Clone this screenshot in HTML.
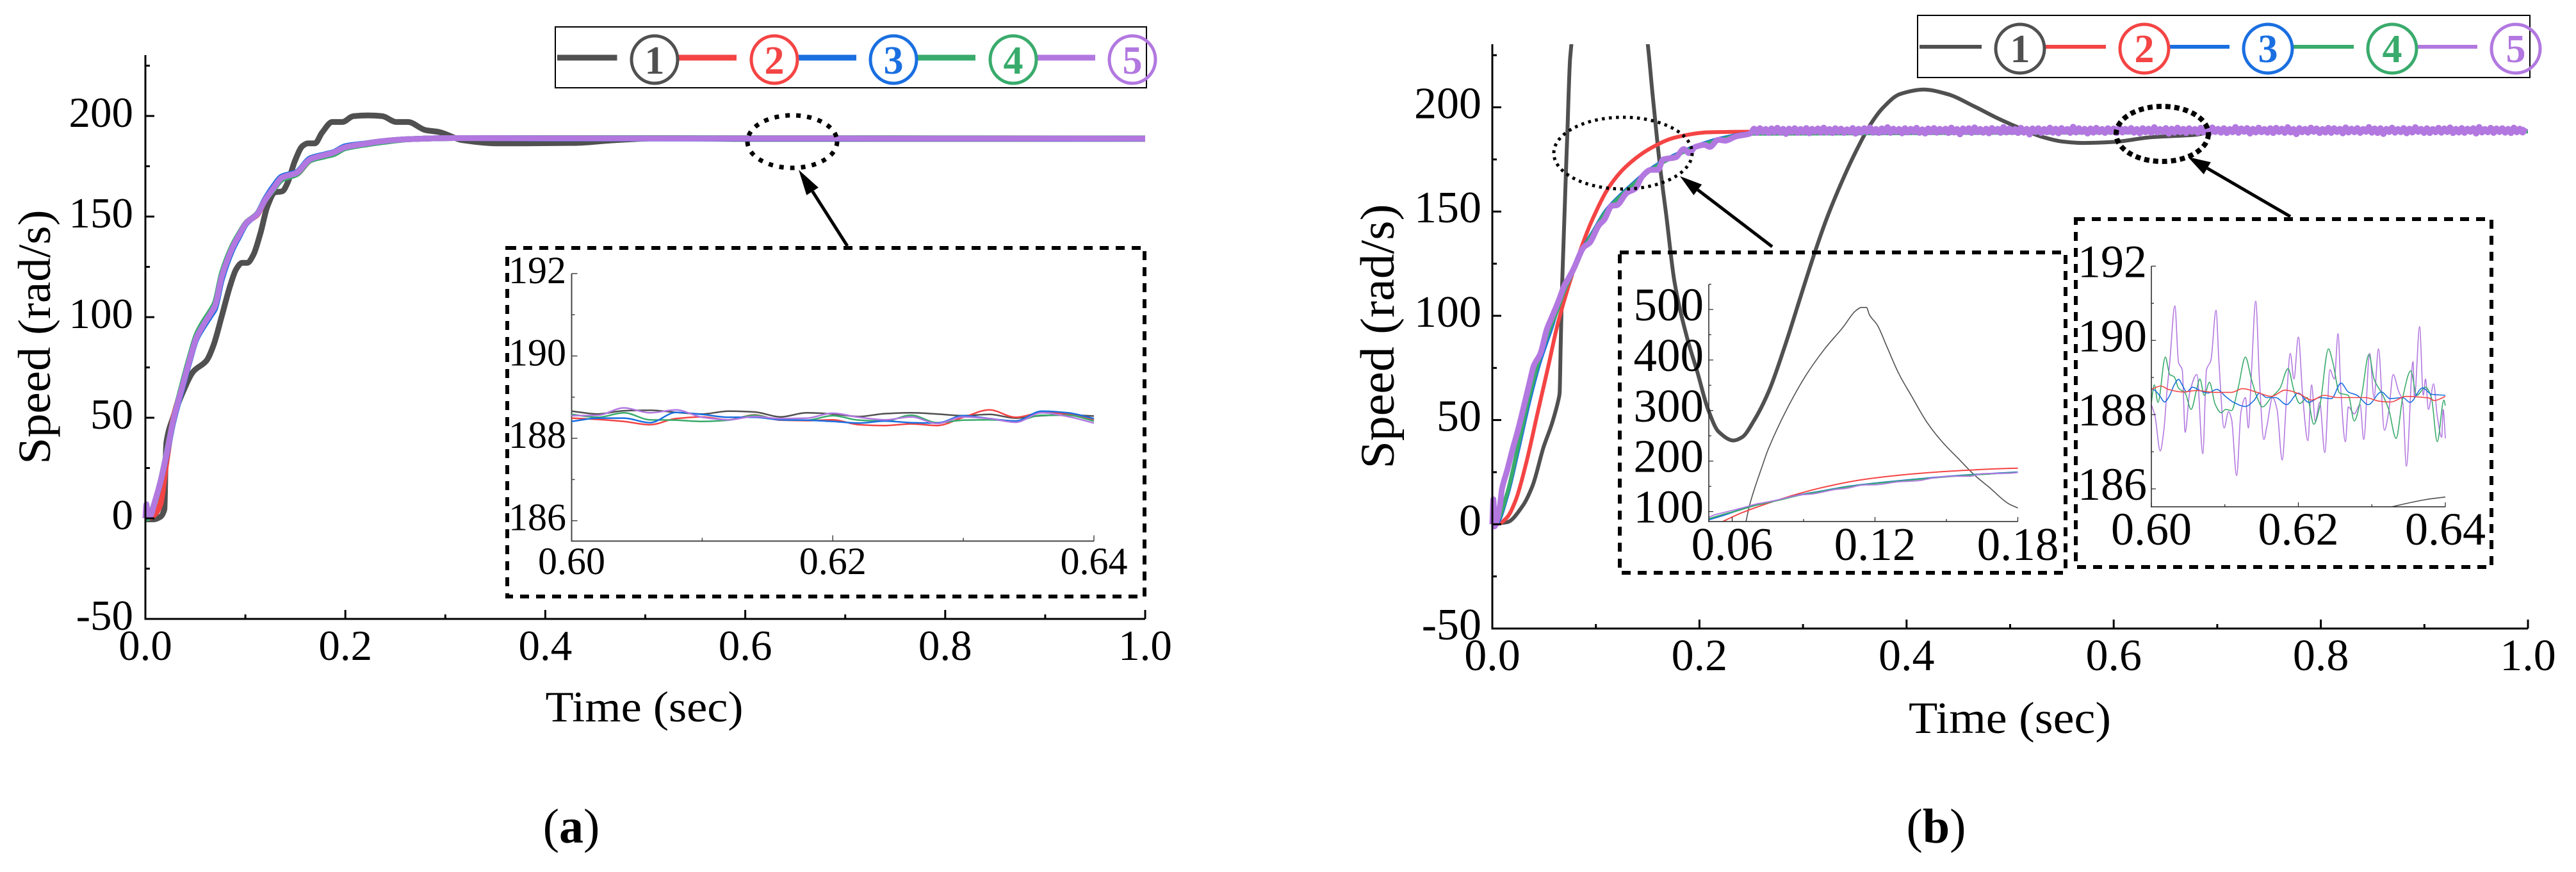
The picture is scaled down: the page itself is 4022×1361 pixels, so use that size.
<!DOCTYPE html>
<html lang="en">
<head>
<meta charset="utf-8">
<title>Speed response comparison</title>
<style>
html,body{margin:0;padding:0;background:#fff;width:4022px;height:1361px;overflow:hidden;}
svg{display:block;font-family:"Liberation Serif",serif;}
</style>
</head>
<body>
<svg id="chart" xmlns="http://www.w3.org/2000/svg" width="4022" height="1361" viewBox="0 0 4022 1361">
<rect x="0" y="0" width="4022" height="1361" fill="#fff"/>
<defs id="clips"></defs>
<g id="panel-a">
  <g id="a-main"></g>
  <text transform="translate(78,526) rotate(-90)" text-anchor="middle" font-size="72" textLength="397" lengthAdjust="spacingAndGlyphs">Speed (rad/s)</text>
  <text x="1006" y="1126" text-anchor="middle" font-size="68" textLength="309" lengthAdjust="spacingAndGlyphs">Time (sec)</text>
  <text x="892" y="1315" text-anchor="middle" font-size="76">(<tspan font-weight="bold">a</tspan>)</text>
  <ellipse cx="1237" cy="221" rx="70" ry="41" fill="none" stroke="#000" stroke-width="7" stroke-dasharray="7 10"/>
  <line x1="1323" y1="384" x2="1268.6" y2="298.7" stroke="#000" stroke-width="5"/>
  <polygon points="1247,265 1277.9,292.8 1259.3,304.6" fill="#000"/>
  <rect x="792" y="387" width="995" height="544" fill="none" stroke="#000" stroke-width="6" stroke-dasharray="14 11"/>
  <g id="a-inset"></g>
  <g>
    <rect x="867" y="42" width="923" height="95" fill="#fff" stroke="#000" stroke-width="2"/>
    <line x1="870" y1="90" x2="963.5" y2="90" stroke="#505050" stroke-width="9"/>
    <line x1="1058" y1="90" x2="1150" y2="90" stroke="#f44444" stroke-width="9"/>
    <line x1="1244" y1="90" x2="1337" y2="90" stroke="#1a6fe0" stroke-width="9"/>
    <line x1="1430" y1="90" x2="1523" y2="90" stroke="#39ab6c" stroke-width="9"/>
    <line x1="1618" y1="90" x2="1710" y2="90" stroke="#b278e0" stroke-width="9"/>
    <ellipse cx="1022" cy="93" rx="36" ry="37" fill="none" stroke="#505050" stroke-width="5"/>
    <ellipse cx="1209" cy="93" rx="36" ry="37" fill="none" stroke="#f44444" stroke-width="5"/>
    <ellipse cx="1395" cy="93" rx="36" ry="37" fill="none" stroke="#1a6fe0" stroke-width="5"/>
    <ellipse cx="1582" cy="93" rx="36" ry="37" fill="none" stroke="#39ab6c" stroke-width="5"/>
    <ellipse cx="1768" cy="93" rx="36" ry="37" fill="none" stroke="#b278e0" stroke-width="5"/>
    <text x="1022" y="115" text-anchor="middle" font-size="62" font-weight="bold" fill="#505050">1</text>
    <text x="1209" y="115" text-anchor="middle" font-size="62" font-weight="bold" fill="#f44444">2</text>
    <text x="1395" y="115" text-anchor="middle" font-size="62" font-weight="bold" fill="#1a6fe0">3</text>
    <text x="1582" y="115" text-anchor="middle" font-size="62" font-weight="bold" fill="#39ab6c">4</text>
    <text x="1768" y="115" text-anchor="middle" font-size="62" font-weight="bold" fill="#b278e0">5</text>
  </g>
</g>
<g id="panel-b">
  <g id="b-main"></g>
  <text transform="translate(2176,525) rotate(-90)" text-anchor="middle" font-size="75" textLength="413" lengthAdjust="spacingAndGlyphs">Speed (rad/s)</text>
  <text x="3138" y="1144" text-anchor="middle" font-size="70" textLength="316" lengthAdjust="spacingAndGlyphs">Time (sec)</text>
  <text x="3023" y="1315" text-anchor="middle" font-size="76">(<tspan font-weight="bold">b</tspan>)</text>
  <ellipse cx="2534" cy="239" rx="108" ry="56" fill="none" stroke="#000" stroke-width="5" stroke-dasharray="4.5 6.5"/>
  <line x1="2767" y1="385" x2="2650.8" y2="296.3" stroke="#000" stroke-width="5"/>
  <polygon points="2623,275 2657.2,288 2644.4,304.6" fill="#000"/>
  <ellipse cx="3376" cy="209" rx="72" ry="43" fill="none" stroke="#000" stroke-width="8" stroke-dasharray="8 6"/>
  <line x1="3576" y1="338" x2="3446.3" y2="262.6" stroke="#000" stroke-width="5"/>
  <polygon points="3416,245 3451.8,253.1 3440.8,272.1" fill="#000"/>
  <rect x="2529" y="394" width="696" height="500" fill="none" stroke="#000" stroke-width="6" stroke-dasharray="14 11"/>
  <rect x="3241" y="342" width="649" height="543" fill="none" stroke="#000" stroke-width="6" stroke-dasharray="14 11"/>
  <g id="b-inset-1"></g>
  <g id="b-inset-2"></g>
  <g>
    <rect x="2994" y="24" width="956" height="97" fill="none" stroke="#000" stroke-width="2"/>
    <line x1="2997" y1="73" x2="3094" y2="73" stroke="#505050" stroke-width="6"/>
    <line x1="3192" y1="73" x2="3288" y2="73" stroke="#f44444" stroke-width="6"/>
    <line x1="3385" y1="73" x2="3481" y2="73" stroke="#1a6fe0" stroke-width="6"/>
    <line x1="3579" y1="73" x2="3675" y2="73" stroke="#39ab6c" stroke-width="6"/>
    <line x1="3772" y1="73" x2="3868" y2="73" stroke="#b278e0" stroke-width="6"/>
    <ellipse cx="3154" cy="76" rx="38" ry="38" fill="none" stroke="#505050" stroke-width="5"/>
    <ellipse cx="3348" cy="76" rx="38" ry="38" fill="none" stroke="#f44444" stroke-width="5"/>
    <ellipse cx="3541" cy="76" rx="38" ry="38" fill="none" stroke="#1a6fe0" stroke-width="5"/>
    <ellipse cx="3735" cy="76" rx="38" ry="38" fill="none" stroke="#39ab6c" stroke-width="5"/>
    <ellipse cx="3928" cy="76" rx="38" ry="38" fill="none" stroke="#b278e0" stroke-width="5"/>
    <text x="3154" y="97" text-anchor="middle" font-size="62" font-weight="bold" fill="#505050">1</text>
    <text x="3348" y="97" text-anchor="middle" font-size="62" font-weight="bold" fill="#f44444">2</text>
    <text x="3541" y="97" text-anchor="middle" font-size="62" font-weight="bold" fill="#1a6fe0">3</text>
    <text x="3735" y="97" text-anchor="middle" font-size="62" font-weight="bold" fill="#39ab6c">4</text>
    <text x="3928" y="97" text-anchor="middle" font-size="62" font-weight="bold" fill="#b278e0">5</text>
  </g>
</g>
</svg>
<script>
/* ---------- axis labels ---------- */
const mainXTicks = ['0.0','0.2','0.4','0.6','0.8','1.0'];
const mainXMinor = [0.1,0.3,0.5,0.7,0.9];
const mainYTicks = ['-50','0','50','100','150','200'];
const mainYMinor = [-25,25,75,125,175,225];
const steadyXTicks = ['0.60','0.62','0.64'];
const steadyXMinor = [0.61,0.63];
const steadyYTicks = ['186','188','190','192'];
const steadyYMinor = [187,189,191];
const transientXTicks = ['0.06','0.12','0.18'];
const transientXMinor = [0.09,0.15];
const transientYTicks = ['100','200','300','400','500'];
const transientYMinor = [150,250,350,450,550];

/* ---------- panel (a) main series ---------- */
const aGrayT = [0,0.008,0.015,0.019,0.0203,0.021,0.028,0.0366,0.048,0.061,0.068,0.0766,0.085,0.091,0.0967,0.102,0.108,0.115,0.122,0.1295,0.137,0.1424,0.1496,0.157,0.1624,0.1696,0.1767,0.187,0.197,0.208,0.2225,0.237,0.251,0.2625,0.28,0.294,0.317,0.351,0.38,0.43,0.47,0.52,0.6,1.0];
const aGrayV = [-0.5,-0.5,0.75,4.5,30,37.7,50.5,61.7,73,78.3,85.8,100.9,116,124,127,127,131,141.6,155,162,162.6,167,177.7,185,186.4,186.4,191.7,197,197,199.9,200.3,199.9,197,197,193,192,188,186.4,186.4,186.6,188,189,188.6,188.6];
const aT = [0,0.001,0.002,0.005,0.0094,0.015,0.021,0.028,0.0366,0.0437,0.051,0.0566,0.065,0.0695,0.0766,0.0866,0.0938,0.101,0.112,0.1195,0.128,0.1367,0.151,0.165,0.18,0.188,0.2,0.2225,0.237,0.265,0.308,0.4,1.0];
const aRed = [0,0,0,0.5,2,7,28,50,65,78,90,95,102,106,121,134,141,147,151,158,164,169,171,178,180.5,181.5,184.5,186.5,187.5,188.5,189,188.9,188.8];
const aBlue = [0,0,0,2,8,18,31,48,64,77,89,94,100.5,104,119,133,140,146.5,151.5,158.5,165,170,172,179,181,182,185,186.5,187.5,188.5,189,188.8,188.7];
const aGreen = [0,0,0,2,8,18,32,49,66,79,91,96.5,103,107,122,135,141.5,147,151.5,158,163.5,168.5,171,178,180,181,184,186,187,188.5,189,189,188.9];
const aPurple = [0,7,3,1.5,8.3,18,31.6,48.9,64.8,77.6,89.6,94.9,101.7,105.4,120.5,134,140.8,146.8,151.3,158,164,169.4,171.7,178.5,180.7,181.8,184.5,186.4,187.5,188.5,189,188.9,188.8];

/* ---------- panel (a) inset series ---------- */
const aInsetT = [0.600,0.602,0.604,0.606,0.608,0.610,0.612,0.614,0.616,0.618,0.620,0.622,0.624,0.626,0.628,0.630,0.632,0.634,0.636,0.638,0.640];
const aInsetGray = [188.66,188.59,188.67,188.68,188.63,188.59,188.66,188.64,188.52,188.62,188.59,188.53,188.60,188.62,188.59,188.55,188.58,188.49,188.55,188.57,188.54];
const aInsetRed = [188.49,188.46,188.41,188.33,188.48,188.52,188.45,188.57,188.44,188.43,188.45,188.33,188.31,188.35,188.31,188.51,188.69,188.51,188.62,188.60,188.44];
const aInsetBlue = [188.41,188.49,188.49,188.38,188.63,188.58,188.51,188.51,188.45,188.44,188.41,188.37,188.42,188.38,188.37,188.55,188.48,188.42,188.66,188.62,188.48];
const aInsetGreen = [188.58,188.51,188.62,188.45,188.44,188.41,188.44,188.56,188.45,188.44,188.55,188.44,188.42,188.56,188.38,188.44,188.45,188.42,188.56,188.56,188.42];
const aInsetPurple = [188.55,188.56,188.74,188.62,188.69,188.51,188.45,188.53,188.48,188.49,188.61,188.51,188.45,188.52,188.36,188.52,188.48,188.39,188.62,188.53,188.37];

/* ---------- panel (b) main series ---------- */
const bGrayT = [0,0.002,0.0144,0.029,0.039,0.0495,0.0577,0.0639,0.065,0.066,0.0675,0.0724,0.0752,0.083,0.0909,0.0987,0.1066,0.1118,0.1144,0.1164,0.1177,0.121,0.1249,0.13,0.1353,0.1418,0.1484,0.155,0.1614,0.168,0.176,0.1875,0.198,0.208,0.2185,0.233,0.241,0.253,0.267,0.2824,0.2968,0.3113,0.3236,0.3381,0.3505,0.3649,0.3772,0.3938,0.4164,0.4391,0.4659,0.4886,0.5113,0.5298,0.5504,0.569,0.6,0.637,0.678,0.7,1.0];
const bGrayV = [0,0.3,1,8.6,18.7,37,48.5,59.8,63,85,116,187,224,303,369,421,465,497,504,504,489,469,427.5,373,329,277,237,205,174,148,116,90.5,73,55.6,44.4,40.2,41.7,50,63.8,85.3,107.8,130.3,147.6,165,178.3,191.6,199.8,206.4,208.5,206.4,200.3,194.6,189.6,186,183.6,182.9,183.4,185.7,186.8,188.5,188.5];
const bRedT = [0,0.006,0.0144,0.0227,0.033,0.0433,0.0537,0.0639,0.0847,0.097,0.113,0.13,0.153,0.177,0.208,0.2455,1.0];
const bRedV = [0,0.3,3.4,11.7,30,52.5,75,97.5,131,146.6,162,172,180.4,185.6,188,188.3,188.5];
const bSmoothT = [0,0.004,0.0144,0.0247,0.0351,0.0454,0.0577,0.0608,0.07,0.0804,0.0883,0.0987,0.109,0.122,0.135,0.148,0.161,0.18,0.2,0.22,0.25,1.0];
const bBlueV = [0,0.3,13.8,35,57.7,77,95,100,113,124,133,141.5,150,157,163,168.6,173,178,182,185,187.5,188.5];
const bGreenV = [0,1,15,37,60,79,96.5,100,112.5,123.5,132.5,141,149.5,156.5,162.5,168,172.5,177.5,181.5,184.5,187.3,188.4];
const bPurpleHeadT = [0,0.001,0.002,0.0075,0.0093,0.0144,0.0196,0.0247,0.031,0.036,0.04,0.0465,0.0526,0.0577,0.0639,0.07,0.0724,0.078,0.0885,0.094,0.103,0.108,0.1156,0.12,0.13,0.138,0.145,0.153,0.16,0.165,0.177,0.185,0.19,0.196,0.205,0.21,0.218,0.225,0.235,0.249];
const bPurpleHeadV = [0,12,-1,9.5,16.8,26,36,45,57.7,68,76,82,93.5,99.6,107,115,117,122,133,135,143.5,146,152.8,153,159,161,167,170,170,175,176,180,178,181,182,181,184.4,184,186,187.4];
const bPurpleTailStart = 0.25;
const bPurpleTailStep = 0.0028;
const bPurpleTailV = [
187.9,189.8,187.7,190.0,188.1,189.6,187.6,189.9,188.0,190.2,187.8,189.7,187.2,189.8,188.1,190.0,187.7,189.6,188.0,190.1,
187.5,189.7,188.2,189.9,187.8,190.3,187.9,189.6,187.6,190.0,188.1,189.8,187.7,189.5,188.0,190.1,187.3,189.7,187.9,190.0,
188.1,190.4,187.8,189.6,187.6,189.9,188.0,190.5,187.7,189.8,188.2,189.6,187.5,190.0,187.9,189.7,188.1,190.2,187.7,189.5,
187.4,189.9,188.0,190.1,187.8,189.7,188.2,189.8,187.6,190.3,187.9,189.6,187.0,189.9,188.1,190.0,187.7,190.4,188.0,189.6,
187.8,189.8,187.5,190.1,188.2,189.7,187.7,190.6,187.9,189.9,188.0,189.6,187.6,190.2,187.8,189.7,186.9,189.9,188.1,190.0,
187.6,189.6,188.0,190.3,187.8,189.8,187.5,190.1,188.2,189.6,187.7,190.7,187.9,190.0,188.1,189.7,187.4,189.9,187.8,190.2,
188.0,189.6,187.7,190.0,188.1,189.9,187.6,190.4,187.9,189.7,188.2,190.1,187.8,189.6,187.5,190.0,188.0,189.8,187.7,190.5,
187.9,189.6,188.1,190.1,187.3,189.8,187.8,190.3,188.0,189.7,187.6,190.0,188.2,189.6,187.7,190.2,187.9,189.9,187.5,190.4,
188.1,189.7,187.8,190.0,187.6,189.6,188.0,190.6,187.7,189.9,188.2,190.1,187.4,189.7,187.9,190.3,188.0,189.6,187.8,190.0,
187.6,190.2,188.1,189.8,187.7,190.5,187.9,189.6,187.1,190.1,188.0,189.7,187.8,190.3,188.2,189.9,187.6,189.6,187.9,190.2,
187.7,190.0,188.1,189.7,187.5,190.4,187.9,189.8,188.0,190.1,187.7,189.6,188.2,190.6,187.8,189.9,187.6,190.0,187.2,189.7,
188.1,190.3,187.8,189.6,188.0,190.1,187.5,189.8,187.9,190.5,188.2,189.7,187.7,190.0,187.6,189.6,188.0,190.2,187.8,189.9,
188.1,190.4,187.6,189.7,187.9,190.1,187.7,189.8,188.2,190.0,187.4,190.6,187.9,189.6,188.0,190.2,187.7,189.9,188.1,190.0,
187.8,189.7,187.6,190.3,188.0,189.8,187.9,190.1];

/* ---------- panel (b) steady-state inset series ---------- */
const bSteadyPurpleT = [0.6000,0.6005,0.6012,0.6017,0.6021,0.6025,0.6032,0.6037,0.6042,0.6046,0.6052,0.6062,0.6070,0.6075,0.6081,0.6088,0.6092,0.6099,0.6105,0.6109,0.6116,0.6122,0.6128,0.6132,0.6136,0.6142,0.6147,0.6153,0.6157,0.6165,0.6171,0.6178,0.6184,0.6189,0.6194,0.6200,0.6206,0.6213,0.6218,0.6223,0.6229,0.6236,0.6243,0.6249,0.6254,0.6258,0.6264,0.6268,0.6276,0.6284,0.6289,0.6297,0.6303,0.6309,0.6317,0.6323,0.6329,0.6336,0.6342,0.6347,0.6356,0.6358,0.6365,0.6370,0.6373,0.6377,0.6384,0.6389,0.6395,0.6397,0.6400];
const bSteadyPurpleV = [188.27,187.96,187.02,187.58,188.58,189.40,190.93,189.40,189.21,187.52,188.58,189.08,186.95,189.21,189.46,190.81,189.40,187.64,188.08,187.89,186.36,188.08,188.46,187.64,189.08,191.06,188.96,187.33,187.67,188.46,188.14,186.78,188.46,189.65,188.96,190.09,188.46,187.30,188.80,187.83,188.33,186.98,189.21,188.96,190.18,188.58,187.27,188.21,188.02,188.27,187.33,189.65,188.46,189.77,187.58,188.08,189.08,188.65,188.33,186.61,189.43,188.46,190.37,188.52,188.96,188.14,188.83,187.96,187.39,188.14,187.36];
const bSteadyGreenT = [0.6,0.6004,0.6009,0.6019,0.6025,0.6031,0.6037,0.6046,0.6054,0.6062,0.6066,0.6072,0.6079,0.6087,0.6095,0.6101,0.6109,0.6118,0.6128,0.6136,0.6144,0.6151,0.6163,0.6175,0.6186,0.6194,0.6202,0.6212,0.6221,0.6229,0.6241,0.6247,0.6256,0.6268,0.6276,0.6286,0.6296,0.6303,0.6315,0.6323,0.6333,0.6342,0.6353,0.6361,0.6373,0.6381,0.6389,0.6398,0.64];
const bSteadyGreenV = [188.33,188.80,188.33,189.55,189.08,189.02,188.71,188.58,188.14,188.71,188.96,188.52,188.87,188.27,188.05,188.14,188.11,188.71,189.55,188.96,188.46,188.21,188.46,188.71,189.24,188.65,188.30,188.46,187.74,188.21,189.77,189.40,188.58,188.52,187.83,188.52,189.62,188.96,188.52,188.14,187.36,188.46,189.18,188.52,188.74,188.46,187.27,188.39,188.24];
const bSteadyBlueT = [0.6,0.6005,0.6011,0.6018,0.6025,0.6031,0.6037,0.6042,0.6048,0.6056,0.6066,0.6077,0.6089,0.6101,0.6112,0.6128,0.6140,0.6147,0.6157,0.6169,0.6184,0.62,0.6214,0.6229,0.6245,0.6258,0.6268,0.6280,0.6295,0.6313,0.6325,0.6342,0.6352,0.6369,0.6381,0.64];
const bSteadyBlueV = [188.70,188.65,188.52,188.34,188.52,188.80,188.95,188.80,188.61,188.74,188.65,188.58,188.68,188.49,188.33,188.22,188.39,188.58,188.46,188.46,188.27,188.58,188.33,188.46,188.43,188.85,188.61,188.52,188.27,188.61,188.43,188.46,188.33,188.72,188.55,188.52];
const bSteadyRedT = [0.6,0.6013,0.6023,0.6042,0.6062,0.6085,0.6109,0.6124,0.6144,0.6163,0.6182,0.6202,0.6218,0.6235,0.6253,0.6268,0.6291,0.6311,0.6326,0.6346,0.6377,0.6385,0.64];
const bSteadyRedV = [188.68,188.77,188.68,188.61,188.65,188.60,188.60,188.70,188.60,188.49,188.66,188.55,188.39,188.52,188.46,188.46,188.46,188.36,188.34,188.49,188.45,188.38,188.49];

/* ---------- series colours ---------- */
const colorGray = '#505050';
const colorRed = '#f44444';
const colorBlue = '#1a6fe0';
const colorGreen = '#39ab6c';
const colorPurple = '#b278e0';

const NS = 'http://www.w3.org/2000/svg';

function linearScale(d0, d1, r0, r1) {
  return function (v) { return r0 + (v - d0) / (d1 - d0) * (r1 - r0); };
}

function addClip(id, x0, y0, x1, y1) {
  const cp = document.createElementNS(NS, 'clipPath');
  cp.setAttribute('id', id);
  const r = document.createElementNS(NS, 'rect');
  r.setAttribute('x', x0);
  r.setAttribute('y', y0);
  r.setAttribute('width', x1 - x0);
  r.setAttribute('height', y1 - y0);
  cp.appendChild(r);
  document.getElementById('clips').appendChild(cp);
}

/* Monotone cubic through points with increasing x: never loops, extremes stay rounded. */
function smoothPath(pts) {
  const n = pts.length;
  const sec = [];
  for (let i = 0; i < n - 1; i++) {
    sec.push((pts[i + 1][1] - pts[i][1]) / (pts[i + 1][0] - pts[i][0]));
  }
  const m = [];
  for (let i = 0; i < n; i++) {
    if (i === 0) { m.push(sec[0]); continue; }
    if (i === n - 1) { m.push(sec[n - 2]); continue; }
    const a = sec[i - 1], b = sec[i];
    m.push(a * b <= 0 ? 0 : 2 * a * b / (a + b));
  }
  let d = 'M' + pts[0][0].toFixed(1) + ' ' + pts[0][1].toFixed(1);
  for (let i = 0; i < n - 1; i++) {
    const h = (pts[i + 1][0] - pts[i][0]) / 3;
    d += 'C' + (pts[i][0] + h).toFixed(1) + ' ' + (pts[i][1] + m[i] * h).toFixed(1) + ' ' +
         (pts[i + 1][0] - h).toFixed(1) + ' ' + (pts[i + 1][1] - m[i + 1] * h).toFixed(1) + ' ' +
         pts[i + 1][0].toFixed(1) + ' ' + pts[i + 1][1].toFixed(1);
  }
  return d;
}

function interpAt(ts, vs, t) {
  for (let i = 0; i < ts.length - 1; i++) {
    if (t >= ts[i] && t <= ts[i + 1]) {
      return vs[i] + (t - ts[i]) / (ts[i + 1] - ts[i]) * (vs[i + 1] - vs[i]);
    }
  }
  return vs[vs.length - 1];
}

/* Restrict a series to an inset's visible time window. */
function windowed(ts, vs, tMin, tMax) {
  const outT = [tMin];
  const outV = [interpAt(ts, vs, tMin)];
  for (let i = 0; i < ts.length; i++) {
    if (ts[i] > tMin && ts[i] < tMax) {
      outT.push(ts[i]);
      outV.push(vs[i]);
    }
  }
  outT.push(tMax);
  outV.push(interpAt(ts, vs, tMax));
  return [outT, outV];
}

function drawSeries(parent, sx, sy, ts, vs, color, width, name, clipId) {
  const pts = ts.map(function (t, i) {
    return [sx(t), Math.max(0, Math.min(1361, sy(vs[i])))];
  });
  const el = document.createElementNS(NS, 'path');
  
  
  el.setAttribute('d', smoothPath(pts));
  el.setAttribute('fill', 'none');
  el.setAttribute('stroke', color);
  el.setAttribute('stroke-width', width);
  el.setAttribute('stroke-linejoin', 'round');
  if (clipId) el.setAttribute('clip-path', 'url(#' + clipId + ')');
  parent.appendChild(el);
}

function segment(parent, x1, y1, x2, y2, color, width, name) {
  const el = document.createElementNS(NS, 'line');
  
  
  el.setAttribute('x1', x1);
  el.setAttribute('y1', y1);
  el.setAttribute('x2', x2);
  el.setAttribute('y2', y2);
  el.setAttribute('stroke', color);
  el.setAttribute('stroke-width', width);
  parent.appendChild(el);
}

function label(parent, x, y, str, anchor, size, name) {
  const el = document.createElementNS(NS, 'text');
  
  
  el.setAttribute('x', x);
  el.setAttribute('y', y);
  el.setAttribute('text-anchor', anchor);
  el.setAttribute('font-size', size);
  el.textContent = str;
  parent.appendChild(el);
}

function drawAxes(parent, box, sx, sy, ax) {
  const x0 = box.x0, x1 = box.x1, yb = box.yBottom, yt = box.yTop;
  segment(parent, x0, yt, x0, yb + ax.width / 2, ax.color, ax.width, 'y-axis-line');
  segment(parent, x0 - ax.width / 2, yb, x1, yb, ax.color, ax.width, 'x-axis-line');
  ax.xTicks.forEach(function (t) {
    const p = sx(parseFloat(t));
    segment(parent, p, yb, p, yb - ax.major, ax.color, ax.tickWidth, 'x-tick');
    label(parent, p, ax.xBase, t, 'middle', ax.font, 'x-tick-label');
  });
  ax.xMinor.forEach(function (t) {
    const p = sx(t);
    segment(parent, p, yb, p, yb - ax.minor, ax.color, ax.tickWidth, 'x-minor-tick');
  });
  ax.yTicks.forEach(function (t) {
    const p = sy(parseFloat(t));
    segment(parent, x0, p, x0 + ax.major, p, ax.color, ax.tickWidth, 'y-tick');
    label(parent, ax.yRight, p + ax.yOff, t, 'end', ax.font, 'y-tick-label');
  });
  ax.yMinor.forEach(function (t) {
    const p = sy(t);
    segment(parent, x0, p, x0 + ax.minor, p, ax.color, ax.tickWidth, 'y-minor-tick');
  });
}

/* ---------- panel (a) main ---------- */
const aSx = linearScale(0, 1, 227, 1788);
const aSy = linearScale(-50, 200, 966, 181);
const aMain = document.getElementById('a-main');
drawSeries(aMain, aSx, aSy, aGrayT, aGrayV, colorGray, 9, 'series-1-line', null);
drawSeries(aMain, aSx, aSy, aT, aRed, colorRed, 9, 'series-2-line', null);
drawSeries(aMain, aSx, aSy, aT, aBlue, colorBlue, 9, 'series-3-line', null);
drawSeries(aMain, aSx, aSy, aT, aGreen, colorGreen, 9, 'series-4-line', null);
drawSeries(aMain, aSx, aSy, aT, aPurple, colorPurple, 9, 'series-5-line', null);
drawAxes(aMain, {x0: 227, x1: 1788, yBottom: 966, yTop: 86}, aSx, aSy, {
  xTicks: mainXTicks, xMinor: mainXMinor, yTicks: mainYTicks, yMinor: mainYMinor,
  major: 14, minor: 7, width: 3, tickWidth: 3, color: '#000', font: 67, xBase: 1030, yRight: 208, yOff: 17
});

/* ---------- panel (a) inset ---------- */
const aiSx = linearScale(0.60, 0.64, 892.5, 1708);
const aiSy = linearScale(186, 192, 812.7, 427);
const aInset = document.getElementById('a-inset');
drawAxes(aInset, {x0: 892.5, x1: 1708, yBottom: 844.5, yTop: 427}, aiSx, aiSy, {
  xTicks: steadyXTicks, xMinor: steadyXMinor, yTicks: steadyYTicks, yMinor: steadyYMinor,
  major: 9, minor: 5, width: 2, tickWidth: 1.5, color: '#444', font: 60, xBase: 896, yRight: 884, yOff: 15
});
drawSeries(aInset, aiSx, aiSy, aInsetT, aInsetGray, colorGray, 2.5, 'inset-series-1', null);
drawSeries(aInset, aiSx, aiSy, aInsetT, aInsetRed, colorRed, 2.5, 'inset-series-2', null);
drawSeries(aInset, aiSx, aiSy, aInsetT, aInsetGreen, colorGreen, 2.5, 'inset-series-4', null);
drawSeries(aInset, aiSx, aiSy, aInsetT, aInsetBlue, colorBlue, 2.5, 'inset-series-3', null);
drawSeries(aInset, aiSx, aiSy, aInsetT, aInsetPurple, colorPurple, 2.5, 'inset-series-5', null);

/* ---------- panel (b) main ---------- */
const bSx = linearScale(0, 1, 2330, 3947);
const bSy = linearScale(-50, 200, 981, 167.5);
addClip('clip-b-main', 2300, 69, 3960, 990);
const bPurpleT = bPurpleHeadT.concat(bPurpleTailV.map(function (_, i) { return bPurpleTailStart + i * bPurpleTailStep; }));
const bPurpleV = bPurpleHeadV.concat(bPurpleTailV);
const bMain = document.getElementById('b-main');
drawSeries(bMain, bSx, bSy, bGrayT, bGrayV, colorGray, 6, 'series-1-line', 'clip-b-main');
drawSeries(bMain, bSx, bSy, bRedT, bRedV, colorRed, 6, 'series-2-line', 'clip-b-main');
drawSeries(bMain, bSx, bSy, bSmoothT, bBlueV, colorBlue, 6, 'series-3-line', 'clip-b-main');
drawSeries(bMain, bSx, bSy, bSmoothT, bGreenV, colorGreen, 6, 'series-4-line', 'clip-b-main');
drawSeries(bMain, bSx, bSy, bPurpleT, bPurpleV, colorPurple, 9, 'series-5-line', 'clip-b-main');
drawAxes(bMain, {x0: 2330, x1: 3947, yBottom: 981, yTop: 69}, bSx, bSy, {
  xTicks: mainXTicks, xMinor: mainXMinor, yTicks: mainYTicks, yMinor: mainYMinor,
  major: 14, minor: 7, width: 3, tickWidth: 3, color: '#000', font: 70, xBase: 1046, yRight: 2313, yOff: 17
});

/* ---------- panel (b) transient inset ---------- */
const b1Sx = linearScale(0.06, 0.18, 2704.5, 3150.5);
const b1Sy = linearScale(100, 500, 798.5, 483);
const b1TMin = 0.05;
const b1TMax = 0.18;
addClip('clip-b1', 2668, 444, 3151, 814);
const b1 = document.getElementById('b-inset-1');
const b1Gray = windowed(bGrayT, bGrayV, b1TMin, b1TMax);
const b1Red = windowed(bRedT, bRedV, b1TMin, b1TMax);
const b1Blue = windowed(bSmoothT, bBlueV, b1TMin, b1TMax);
const b1Green = windowed(bSmoothT, bGreenV, b1TMin, b1TMax);
const b1Purple = windowed(bPurpleT, bPurpleV, b1TMin, b1TMax);
drawSeries(b1, b1Sx, b1Sy, b1Gray[0], b1Gray[1], colorGray, 1.6, 'inset-series-1', 'clip-b1');
drawSeries(b1, b1Sx, b1Sy, b1Red[0], b1Red[1], colorRed, 2, 'inset-series-2', 'clip-b1');
drawSeries(b1, b1Sx, b1Sy, b1Blue[0], b1Blue[1], colorBlue, 2.5, 'inset-series-3', 'clip-b1');
drawSeries(b1, b1Sx, b1Sy, b1Green[0], b1Green[1], colorGreen, 2, 'inset-series-4', 'clip-b1');
drawSeries(b1, b1Sx, b1Sy, b1Purple[0], b1Purple[1], colorPurple, 1.8, 'inset-series-5', 'clip-b1');
drawAxes(b1, {x0: 2668, x1: 3150.5, yBottom: 814, yTop: 444}, b1Sx, b1Sy, {
  xTicks: transientXTicks, xMinor: transientXMinor, yTicks: transientYTicks, yMinor: transientYMinor,
  major: 7, minor: 4, width: 1.5, tickWidth: 1.2, color: '#222', font: 73, xBase: 874, yRight: 2660, yOff: 17
});

/* ---------- panel (b) steady inset ---------- */
const b2Sx = linearScale(0.60, 0.64, 3359, 3818);
const b2Sy = linearScale(186, 192, 763, 415.4);
const b2TMin = 0.60;
const b2TMax = 0.64;
addClip('clip-b2', 3359, 415, 3819, 791);
const b2 = document.getElementById('b-inset-2');
const b2Gray = windowed(bGrayT, bGrayV, b2TMin, b2TMax);
drawSeries(b2, b2Sx, b2Sy, b2Gray[0], b2Gray[1], colorGray, 1.6, 'inset-series-1', 'clip-b2');
drawSeries(b2, b2Sx, b2Sy, bSteadyPurpleT, bSteadyPurpleV, colorPurple, 1.6, 'inset-series-5', 'clip-b2');
drawSeries(b2, b2Sx, b2Sy, bSteadyGreenT, bSteadyGreenV, colorGreen, 1.6, 'inset-series-4', 'clip-b2');
drawSeries(b2, b2Sx, b2Sy, bSteadyBlueT, bSteadyBlueV, colorBlue, 1.6, 'inset-series-3', 'clip-b2');
drawSeries(b2, b2Sx, b2Sy, bSteadyRedT, bSteadyRedV, colorRed, 1.6, 'inset-series-2', 'clip-b2');
drawAxes(b2, {x0: 3359, x1: 3818, yBottom: 791, yTop: 415.4}, b2Sx, b2Sy, {
  xTicks: steadyXTicks, xMinor: steadyXMinor, yTicks: steadyYTicks, yMinor: steadyYMinor,
  major: 7, minor: 4, width: 1.5, tickWidth: 1.2, color: '#222', font: 72, xBase: 850, yRight: 3352, yOff: 17
});
</script>
</body>
</html>
